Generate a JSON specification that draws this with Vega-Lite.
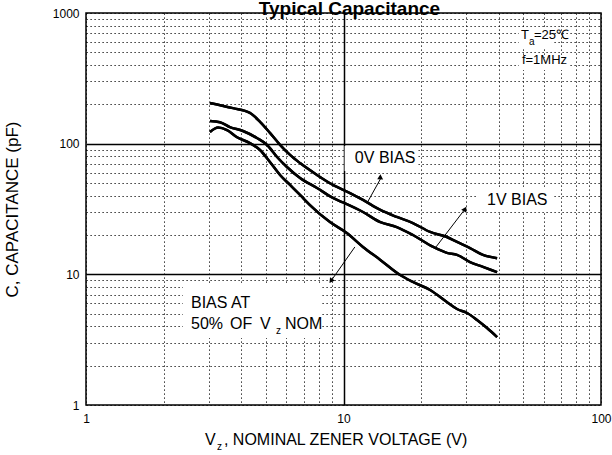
{
  "$schema": "https://vega.github.io/schema/vega-lite/v6.json",
  "width": 515,
  "height": 392,
  "autosize": {"type": "none"},
  "padding": {"left": 86, "top": 13, "right": 11, "bottom": 50},
  "background": "white",
  "title": {"text": "Typical Capacitance", "font": "Liberation Sans", "fontSize": 19, "fontWeight": "bold", "color": "black", "anchor": "middle", "baseline": "alphabetic", "offset": 0, "dx": 6, "dy": 27},
  "config": {"view": {"stroke": "black", "strokeWidth": 1.5}, "font": "Liberation Sans"},
  "datasets": {
    "curves": [
      {"series": "0V", "v": 3.03, "c": 205}, {"series": "0V", "v": 3.72, "c": 187}, {"series": "0V", "v": 4.33, "c": 172}, {"series": "0V", "v": 4.74, "c": 147}, {"series": "0V", "v": 5.18, "c": 121}, {"series": "0V", "v": 5.67, "c": 98}, {"series": "0V", "v": 6.2, "c": 82}, {"series": "0V", "v": 6.78, "c": 71}, {"series": "0V", "v": 7.89, "c": 57.6}, {"series": "0V", "v": 9.1, "c": 48.3}, {"series": "0V", "v": 10.6, "c": 41.9}, {"series": "0V", "v": 11.9, "c": 37.1}, {"series": "0V", "v": 13.9, "c": 31.1}, {"series": "0V", "v": 16.1, "c": 27.5}, {"series": "0V", "v": 18.6, "c": 24.7}, {"series": "0V", "v": 21.7, "c": 21.1}, {"series": "0V", "v": 25.2, "c": 19.3}, {"series": "0V", "v": 27.6, "c": 17.7}, {"series": "0V", "v": 31.0, "c": 15.9}, {"series": "0V", "v": 34.8, "c": 14.1}, {"series": "0V", "v": 39.5, "c": 13.3},
      {"series": "1V", "v": 3.03, "c": 149}, {"series": "1V", "v": 3.31, "c": 146}, {"series": "1V", "v": 3.62, "c": 134}, {"series": "1V", "v": 4.07, "c": 125}, {"series": "1V", "v": 4.61, "c": 110.5}, {"series": "1V", "v": 5.05, "c": 97.7}, {"series": "1V", "v": 5.52, "c": 79.1}, {"series": "1V", "v": 6.03, "c": 66.3}, {"series": "1V", "v": 6.78, "c": 54.6}, {"series": "1V", "v": 7.89, "c": 45.8}, {"series": "1V", "v": 9.1, "c": 38.4}, {"series": "1V", "v": 9.95, "c": 35.5}, {"series": "1V", "v": 11.9, "c": 30.0}, {"series": "1V", "v": 13.9, "c": 25.1}, {"series": "1V", "v": 16.1, "c": 23.0}, {"series": "1V", "v": 18.6, "c": 20.0}, {"series": "1V", "v": 22.3, "c": 16.2}, {"series": "1V", "v": 25.2, "c": 14.6}, {"series": "1V", "v": 27.6, "c": 14.1}, {"series": "1V", "v": 31.0, "c": 12.4}, {"series": "1V", "v": 34.8, "c": 11.4}, {"series": "1V", "v": 39.5, "c": 10.4},
      {"series": "50%", "v": 3.03, "c": 123}, {"series": "50%", "v": 3.26, "c": 133}, {"series": "50%", "v": 3.53, "c": 127}, {"series": "50%", "v": 3.86, "c": 112}, {"series": "50%", "v": 4.33, "c": 101}, {"series": "50%", "v": 4.74, "c": 89.4}, {"series": "50%", "v": 5.18, "c": 72.4}, {"series": "50%", "v": 5.67, "c": 57.6}, {"series": "50%", "v": 6.2, "c": 48.3}, {"series": "50%", "v": 6.78, "c": 40.5}, {"series": "50%", "v": 7.41, "c": 33.9}, {"series": "50%", "v": 8.86, "c": 25.1}, {"series": "50%", "v": 10.3, "c": 20.7}, {"series": "50%", "v": 11.9, "c": 16.2}, {"series": "50%", "v": 13.9, "c": 12.9}, {"series": "50%", "v": 16.6, "c": 9.88}, {"series": "50%", "v": 18.6, "c": 8.74}, {"series": "50%", "v": 21.7, "c": 7.59}, {"series": "50%", "v": 25.2, "c": 6.14}, {"series": "50%", "v": 27.6, "c": 5.43}, {"series": "50%", "v": 30.2, "c": 5.06}, {"series": "50%", "v": 33.0, "c": 4.47}, {"series": "50%", "v": 36.1, "c": 3.88}, {"series": "50%", "v": 39.5, "c": 3.31}
    ],
    "arrows": [
      {"arrow": "a50", "v": 11.07, "c": 16.2, "tv": 8.94, "tc": 8.89},
      {"arrow": "a0", "v": 12.34, "c": 35.1, "tv": 13.98, "tc": 54.6},
      {"arrow": "a1", "v": 22.87, "c": 16.2, "tv": 29.65, "tc": 31.6}
    ],
    "boxes": [
      {"v": 2.38, "v2": 8.25, "c": 8.3, "c2": 3.26},
      {"v": 10.1, "v2": 19.5, "c": 96, "c2": 61.8},
      {"v": 33.3, "v2": 65.1, "c": 45.8, "c2": 30.5},
      {"v": 48.0, "v2": 64.5, "c": 754, "c2": 549},
      {"v": 48.0, "v2": 75.1, "c": 452, "c2": 366}
    ],
    "bigLabels": [
      {"text": "0V BIAS", "v": 11.07, "c": 77.7},
      {"text": "1V BIAS", "v": 36.1, "c": 37.1},
      {"text": "BIAS AT", "v": 2.557, "c": 6.03},
      {"text": "50%", "v": 2.557, "c": 4.17},
      {"text": "OF", "v": 3.624, "c": 4.17},
      {"text": "V", "v": 4.739, "c": 4.17},
      {"text": "NOM", "v": 5.928, "c": 4.17},
      {"text": "V", "v": 2.9, "c": 0.54},
      {"text": ", NOMINAL ZENER VOLTAGE (V)", "v": 3.434, "c": 0.54}
    ],
    "smallLabels": [
      {"text": "T", "v": 48.9, "c": 678},
      {"text": "=25℃", "v": 54.9, "c": 678},
      {"text": "f=1MHz", "v": 49.3, "c": 436}
    ],
    "subs": [
      {"text": "z", "v": 5.468, "c": 4.17},
      {"text": "a", "v": 52.5, "c": 678},
      {"text": "z", "v": 3.227, "c": 0.54}
    ]
  },
  "layer": [
    {
      "data": {"name": "curves"},
      "mark": {"type": "line", "color": "black", "strokeWidth": 2.5, "interpolate": "monotone"},
      "encoding": {
        "x": {"field": "v", "type": "quantitative", "scale": {"type": "log", "domain": [1, 100], "nice": false},
          "axis": {"title": null, "values": [1,2,3,4,5,6,7,8,9,10,20,30,40,50,60,70,80,90,100], "format": "d",
            "labelExpr": "indexof([1,10,100], datum.value) >= 0 ? datum.label : ''",
            "grid": true, "gridColor": "black",
            "gridDash": {"condition": {"test": "datum.value == 10", "value": [1, 0]}, "value": [1.2, 2.8]},
            "gridWidth": {"condition": {"test": "datum.value == 10", "value": 1.5}, "value": 1},
            "gridOpacity": 1,
            "ticks": false, "domain": false, "labelFont": "Liberation Sans", "labelFontSize": 12, "labelColor": "black", "labelPadding": 8, "labelFlush": false}},
        "y": {"field": "c", "type": "quantitative", "scale": {"type": "log", "domain": [1, 1000], "nice": false},
          "axis": {"title": "C, CAPACITANCE (pF)", "values": [1,2,3,4,5,6,7,8,9,10,20,30,40,50,60,70,80,90,100,200,300,400,500,600,700,800,900,1000], "format": "d",
            "labelExpr": "indexof([1,10,100,1000], datum.value) >= 0 ? datum.label : ''",
            "grid": true, "gridColor": "black",
            "gridDash": {"condition": {"test": "datum.value == 10 || datum.value == 100", "value": [1, 0]}, "value": [1.2, 2.8]},
            "gridWidth": {"condition": {"test": "datum.value == 10 || datum.value == 100", "value": 1.5}, "value": 1},
            "gridOpacity": 1,
            "ticks": false, "domain": false, "labelFont": "Liberation Sans", "labelFontSize": 12, "labelColor": "black", "labelPadding": 7, "labelFlush": false,
            "titleFont": "Liberation Sans", "titleFontSize": 17, "titleFontWeight": "normal", "titleColor": "black", "titlePadding": 31}},
        "detail": {"field": "series", "type": "nominal"}
      }
    },
    {
      "data": {"name": "boxes"},
      "mark": {"type": "rect", "fill": "white"},
      "encoding": {
        "x": {"field": "v", "type": "quantitative"}, "x2": {"field": "v2"},
        "y": {"field": "c", "type": "quantitative"}, "y2": {"field": "c2"}
      }
    },
    {
      "data": {"name": "curves"},
      "mark": {"type": "line", "color": "black", "strokeWidth": 2.5, "interpolate": "monotone"},
      "encoding": {
        "x": {"field": "v", "type": "quantitative"},
        "y": {"field": "c", "type": "quantitative"},
        "detail": {"field": "series", "type": "nominal"}
      }
    },
    {
      "data": {"name": "arrows"},
      "mark": {"type": "rule", "color": "black", "strokeWidth": 1},
      "encoding": {
        "x": {"field": "v", "type": "quantitative"}, "x2": {"field": "tv"},
        "y": {"field": "c", "type": "quantitative"}, "y2": {"field": "tc"}
      }
    },
    {
      "data": {"name": "arrows"},
      "mark": {"type": "point", "shape": "triangle-up", "filled": true, "color": "black", "size": 35, "opacity": 1},
      "encoding": {
        "x": {"field": "tv", "type": "quantitative"},
        "y": {"field": "tc", "type": "quantitative"},
        "angle": {"field": "arrow", "type": "nominal", "scale": {"domain": ["a50", "a0", "a1"], "range": [215, 30, 37]}, "legend": null}
      }
    },
    {
      "data": {"name": "bigLabels"},
      "mark": {"type": "text", "align": "left", "baseline": "middle", "font": "Liberation Sans", "fontSize": 16, "color": "black"},
      "encoding": {
        "x": {"field": "v", "type": "quantitative"},
        "y": {"field": "c", "type": "quantitative"},
        "text": {"field": "text"}
      }
    },
    {
      "data": {"name": "smallLabels"},
      "mark": {"type": "text", "align": "left", "baseline": "middle", "font": "Liberation Sans", "fontSize": 13, "color": "black"},
      "encoding": {
        "x": {"field": "v", "type": "quantitative"},
        "y": {"field": "c", "type": "quantitative"},
        "text": {"field": "text"}
      }
    },
    {
      "data": {"name": "subs"},
      "mark": {"type": "text", "align": "left", "baseline": "middle", "font": "Liberation Sans", "fontSize": 10, "color": "black", "dy": 7},
      "encoding": {
        "x": {"field": "v", "type": "quantitative"},
        "y": {"field": "c", "type": "quantitative"},
        "text": {"field": "text"}
      }
    }
  ]
}
